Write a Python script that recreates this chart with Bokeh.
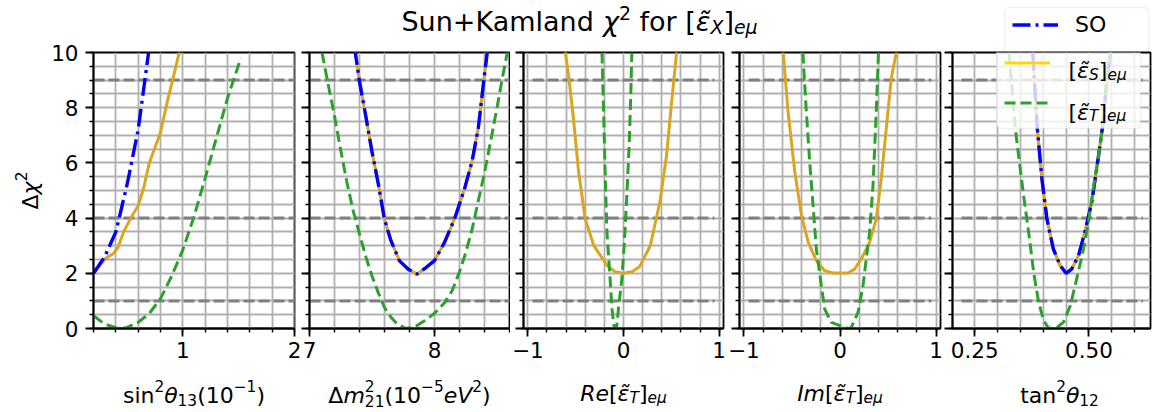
import math
from bokeh.plotting import figure
from bokeh.models import BoxAnnotation, FixedTicker, Label, Legend, LegendItem, Range1d
from bokeh.layouts import row, column
from bokeh.embed import file_html
from bokeh.resources import INLINE

FONT = "DejaVu Sans"
TICK_FS = 21.5
LABEL_FS = 22
TITLE_FS = 27

SO_COLOR = "#0000ff"
S_COLOR = "#daa520"
S_LEGEND_COLOR = "#ffd700"
T_COLOR = "#2ca02c"
REF_COLOR = "#808080"
GRID_COLOR = "#b0b0b0"

# reference levels of delta chi^2
chi2_levels = [1, 4, 9]
y_major = [0, 2, 4, 6, 8, 10]
y_minor = [i * 0.5 for i in range(21)]

# ---- sin^2(theta_13) in units of 1e-1 ----
s13_so_x = [0.2, 0.3, 0.4, 0.5, 0.6, 0.7]
s13_so_y = [2.0, 2.6, 3.5, 5.2, 7.2, 10.2]
s13_s_x = [0.2, 0.3, 0.33, 0.38, 0.42, 0.47, 0.54, 0.6, 0.65, 0.7, 0.8, 0.86, 0.92, 0.98]
s13_s_y = [2.0, 2.5, 2.6, 2.72, 2.95, 3.5, 4.05, 4.45, 5.1, 6.0, 7.1, 8.2, 9.2, 10.2]
s13_t_x = [0.2, 0.3, 0.4, 0.45, 0.5, 0.6, 0.7, 0.8, 0.9, 1.0, 1.1, 1.2, 1.3, 1.4, 1.52]
s13_t_y = [0.46, 0.16, 0.03, 0.0, 0.04, 0.22, 0.55, 1.08, 1.9, 2.85, 4.05, 5.45, 6.9, 8.35, 9.8]
s13_span = [0.2, 2.0]

# ---- delta m^2_21 in units of 1e-5 eV^2 ----
dm_so_x = [7.36, 7.40, 7.45, 7.50, 7.55, 7.60, 7.65, 7.72, 7.79, 7.86, 7.93, 8.00,
           8.08, 8.16, 8.24, 8.30, 8.35, 8.40, 8.43]
dm_so_y = [10.2, 8.95, 7.7, 6.4, 5.25, 3.95, 3.2, 2.45, 2.15, 1.97, 2.2, 2.46,
           3.12, 3.97, 5.06, 6.05, 7.25, 9.2, 10.3]
dm_s_x = [7.36, 7.40, 7.45, 7.50, 7.55, 7.60, 7.65, 7.72, 7.79, 7.86, 7.93, 8.00,
          8.08, 8.16, 8.24, 8.30, 8.35, 8.40, 8.43]
dm_s_y = [10.2, 8.95, 7.7, 6.4, 5.25, 3.95, 3.2, 2.45, 2.15, 1.97, 2.2, 2.46,
          3.12, 3.97, 5.06, 6.05, 7.25, 9.2, 10.3]
dm_t_x = [7.10, 7.15, 7.20, 7.25, 7.30, 7.35, 7.40, 7.45, 7.50, 7.55, 7.60, 7.65, 7.70,
          7.77, 7.85, 7.92, 8.00, 8.08, 8.14, 8.20, 8.25, 8.30, 8.35, 8.40, 8.45, 8.50,
          8.55, 8.60]
dm_t_y = [10.0, 8.83, 7.7, 6.45, 5.28, 4.25, 3.42, 2.61, 1.9, 1.3, 0.76, 0.42, 0.17,
          0.0, 0.08, 0.28, 0.55, 0.93, 1.36, 2.05, 2.75, 3.58, 4.62, 5.65, 6.8, 8.0,
          9.25, 10.4]
dm_span = [7.0, 8.6]

# ---- Re[eps_T]_{e mu} ----
re_s_x = [-0.62, -0.57, -0.52, -0.47, -0.40, -0.31, -0.17, -0.09, 0.0, 0.09, 0.17,
          0.28, 0.38, 0.45, 0.50, 0.56]
re_s_y = [10.3, 9.06, 7.5, 5.7, 3.97, 3.0, 2.28, 2.06, 2.0, 2.06, 2.25, 3.0, 4.58,
          6.27, 8.09, 10.2]
re_t_x = [-0.225, -0.208, -0.19, -0.173, -0.14, -0.12, -0.10, -0.085, -0.07, -0.05,
          -0.017, 0.007, 0.035, 0.059, 0.076, 0.087]
re_t_y = [10.0, 7.85, 5.42, 3.49, 1.8, 0.7, 0.1, 0.0, 0.1, 0.82, 1.79, 3.0, 4.82,
          6.63, 8.45, 10.0]
re_span = [-0.95, 0.95]

# ---- Im[eps_T]_{e mu} ----
im_s_x = [-0.59, -0.54, -0.47, -0.40, -0.33, -0.246, -0.159, -0.073, 0.083, 0.152,
          0.221, 0.308, 0.377, 0.429, 0.481, 0.533, 0.585]
im_s_y = [10.0, 7.85, 5.67, 4.09, 3.12, 2.46, 2.09, 2.01, 2.01, 2.15, 2.52, 3.12,
          3.97, 5.42, 7.24, 9.06, 10.0]
im_t_x = [-0.386, -0.35, -0.315, -0.28, -0.246, -0.194, -0.159, -0.09, 0.048, 0.10,
          0.118, 0.187, 0.239, 0.273, 0.308, 0.343, 0.377, 0.40]
im_t_y = [10.0, 7.85, 6.03, 4.46, 2.88, 1.55, 0.70, 0.22, 0.04, 0.0, 0.04, 0.58,
          1.55, 2.52, 3.49, 5.18, 7.85, 10.0]
im_span = [-0.95, 0.95]

# ---- tan^2(theta_12) ----
t12_so_x = [0.377, 0.387, 0.397, 0.408, 0.422, 0.437, 0.45, 0.462, 0.477, 0.491,
            0.506, 0.52, 0.531, 0.538, 0.547]
t12_so_y = [10.0, 7.24, 5.42, 3.97, 2.88, 2.28, 2.0, 2.15, 2.64, 3.49, 4.58, 6.15,
            7.48, 8.81, 10.0]
t12_s_x = [0.377, 0.387, 0.397, 0.408, 0.422, 0.437, 0.45, 0.462, 0.477, 0.491,
           0.506, 0.52, 0.531, 0.538, 0.547]
t12_s_y = [10.0, 7.24, 5.42, 3.97, 2.88, 2.28, 2.0, 2.15, 2.64, 3.49, 4.58, 6.15,
           7.48, 8.81, 10.0]
t12_t_x = [0.325, 0.339, 0.346, 0.357, 0.368, 0.379, 0.39, 0.401, 0.412, 0.43, 0.444,
           0.459, 0.473, 0.488, 0.499, 0.509, 0.52, 0.531, 0.538, 0.547]
t12_t_y = [10.0, 7.24, 6.27, 4.82, 3.49, 2.03, 0.94, 0.28, 0.0, 0.04, 0.22, 0.82,
           1.79, 2.88, 3.85, 5.06, 6.15, 7.48, 8.81, 10.0]
t12_span = [0.221, 0.618]

# approximate advance widths (em) of DejaVu Sans, used to lay out math-style labels
CHAR_W = {
    " ": 0.318, "(": 0.390, ")": 0.390, "[": 0.390, "]": 0.390, "+": 0.838,
    "\u2212": 0.838, "a": 0.613, "d": 0.635, "e": 0.615, "f": 0.352, "i": 0.278,
    "l": 0.278, "m": 0.974, "n": 0.634, "o": 0.612, "r": 0.411, "s": 0.521,
    "t": 0.392, "u": 0.634, "K": 0.656, "S": 0.635, "R": 0.695, "I": 0.295,
    "X": 0.685, "T": 0.611, "V": 0.684, "O": 0.787, "\u03b8": 0.602,
    "\u03c7": 0.592, "\u03b5": 0.546, "\u03bc": 0.635, "\u0394": 0.684, "\u0303": 0.0,
}
for _d in "0123456789":
    CHAR_W[_d] = 0.636


def text_width(s, size):
    return sum(CHAR_W.get(c, 0.6) for c in s) * size


def math_text(p, pieces, x, y, fs, align="center", angle=0.0, sup=0.43):
    """Lay out (text, italic, role) pieces as a row of Labels in screen units.
    role: n = normal, sup / sub = script, sups = stacked superscript (no advance),
    subs = subscript stacked under the previous superscript."""
    sfs = 0.7 * fs
    items = []
    cursor = 0.0
    for text, italic, role in pieces:
        size = fs if role == "n" else sfs
        if role in ("sup", "sups"):
            dy = sup * fs
        elif role == "sub":
            dy = -0.19 * fs
        elif role == "subs":
            dy = -0.23 * fs
        else:
            dy = 0.0
        lead = len(text) - len(text.lstrip(" "))
        items.append((text.strip(" "), italic, size, cursor + lead * CHAR_W[" "] * size, dy))
        if role != "sups":
            cursor += text_width(text, size)
    start = -cursor / 2 if align == "center" else 0.0
    for text, italic, size, off, dy in items:
        if angle:
            lx, ly = x - dy, y + start + off
        else:
            lx, ly = x + start + off, y + dy
        p.add_layout(Label(x=lx, y=ly, x_units="screen", y_units="screen", text=text,
                           text_font=FONT, text_font_size=f"{size:.1f}px",
                           text_font_style="italic" if italic else "normal",
                           text_color="black", text_align="left",
                           text_baseline="alphabetic", angle=angle, level="overlay"))


def blank_fig(w, h):
    p = figure(width=w, height=h, min_border=0, toolbar_location=None,
               output_backend="svg", x_range=Range1d(0, 1), y_range=Range1d(0, 1))
    p.axis.visible = False
    p.grid.visible = False
    p.outline_line_color = None
    p.background_fill_color = "white"
    p.border_fill_color = "white"
    return p


FRAME_H = 276


def make_panel(xr, xticks, xminor, overrides, frame_w, bl, br, bt, ylabels):
    p = figure(x_range=Range1d(*xr), y_range=Range1d(0, 10), frame_width=frame_w,
               frame_height=FRAME_H, min_border_left=bl, min_border_right=br,
               min_border_top=bt, min_border_bottom=45, toolbar_location=None,
               output_backend="svg")
    p.background_fill_color = "white"
    p.border_fill_color = "white"
    p.outline_line_color = "black"
    p.outline_line_width = 1.8
    p.xgrid.ticker = FixedTicker(ticks=xminor)
    p.ygrid.ticker = FixedTicker(ticks=y_minor)
    for g in (p.xgrid, p.ygrid):
        g.grid_line_color = GRID_COLOR
        g.grid_line_width = 1.8
    xa, ya = p.xaxis[0], p.yaxis[0]
    xa.ticker = FixedTicker(ticks=xticks, minor_ticks=xminor)
    ya.ticker = FixedTicker(ticks=y_major, minor_ticks=y_minor)
    for ax in (xa, ya):
        ax.axis_line_color = "black"
        ax.axis_line_width = 1.8
        ax.major_tick_line_color = "black"
        ax.major_tick_line_width = 1.8
        ax.minor_tick_line_color = "black"
        ax.minor_tick_line_width = 1.4
        ax.major_tick_in = 0
        ax.major_tick_out = 8
        ax.minor_tick_in = 0
        ax.minor_tick_out = 4
        ax.major_label_text_font = FONT
        ax.major_label_text_font_size = f"{TICK_FS}px"
        ax.major_label_text_color = "black"
    xa.major_label_standoff = 5
    if overrides:
        xa.major_label_overrides = overrides
    if ylabels:
        ya.major_label_standoff = 7
    else:
        ya.major_label_overrides = {v: "" for v in y_major}
        ya.major_label_standoff = 0
    return p


def reference_lines(p, span):
    p.multi_line(xs=[list(span) for _ in chi2_levels], ys=[[v, v] for v in chi2_levels],
                 line_color=REF_COLOR, line_width=3, line_dash="11 4")


def curves(p, so=None, s=None, t=None):
    r = {}
    if s is not None:
        r["s"] = p.line(s[0], s[1], line_color=S_COLOR, line_width=3)
    if so is not None:
        r["so"] = p.line(so[0], so[1], line_color=SO_COLOR, line_width=3.4,
                         line_dash="18 5 3 5")
    if t is not None:
        r["t"] = p.line(t[0], t[1], line_color=T_COLOR, line_width=3,
                        line_dash="11 5")
    return r


def legend_box(p, left, right, bottom, top):
    box = BoxAnnotation(left=left, right=right, bottom=bottom, top=top,
                        left_units="screen", right_units="screen",
                        bottom_units="screen", top_units="screen",
                        fill_color="white", fill_alpha=0.8,
                        line_color="#cccccc", line_width=1.5, level="annotation")
    if "border_radius" in BoxAnnotation.properties():
        box.border_radius = 5
    p.add_layout(box)


def plain_legend(items, location, spacing):
    lg = Legend(items=items, location=location)
    lg.padding = 0
    lg.margin = 0
    lg.spacing = spacing
    lg.glyph_width = 46
    lg.glyph_height = 27
    lg.label_height = 27
    lg.label_width = 40
    lg.label_standoff = 17
    lg.label_text_font = FONT
    lg.label_text_font_size = f"{LABEL_FS}px"
    lg.label_text_color = "black"
    lg.background_fill_alpha = 0
    lg.border_line_color = None
    lg.level = "overlay"
    return lg


TOP = 12  # space above the first four frames, below the title strip

minor_s13 = [round(0.2 + 0.2 * i, 2) for i in range(10)]
minor_dm = [round(7.0 + 0.2 * i, 2) for i in range(9)]
minor_eps = [round(-1.0 + 0.2 * i, 2) for i in range(11)]
minor_t12 = [round(0.25 + 0.05 * i, 2) for i in range(8)]

f1 = make_panel((0.1999, 2.0001), [1, 2], minor_s13, None, 201, 45, 7, TOP, True)
f2 = make_panel((6.9999, 8.6), [7, 8], minor_dm, None, 200, 8, 1, TOP, False)
f3 = make_panel((-1.045, 1.045), [-1, 0, 1], minor_eps, {-1: "\u22121"}, 200, 13, 4, TOP, False)
f4 = make_panel((-1.045, 1.045), [-1, 0, 1], minor_eps, {-1: "\u22121"}, 201, 12, 4, TOP, False)
f5 = make_panel((0.2015, 0.6345), [0.25, 0.5], minor_t12, {0.25: "0.25", 0.5: "0.50"},
                198, 8, 6, 1, False)

reference_lines(f1, s13_span)
curves(f1, so=(s13_so_x, s13_so_y), s=(s13_s_x, s13_s_y), t=(s13_t_x, s13_t_y))
reference_lines(f2, dm_span)
curves(f2, so=(dm_so_x, dm_so_y), s=(dm_s_x, dm_s_y), t=(dm_t_x, dm_t_y))
reference_lines(f3, re_span)
curves(f3, s=(re_s_x, re_s_y), t=(re_t_x, re_t_y))
reference_lines(f4, im_span)
curves(f4, s=(im_s_x, im_s_y), t=(im_t_x, im_t_y))
reference_lines(f5, t12_span)
# gold legend handle: the scalar-S curve, drawn first so the goldenrod curve covers it
gold_handle = f5.line(t12_s_x, t12_s_y, line_color=S_LEGEND_COLOR, line_width=3)
r5 = curves(f5, so=(t12_so_x, t12_so_y), s=(t12_s_x, t12_s_y), t=(t12_t_x, t12_t_y))

# x-axis titles, each in a strip under its panel
xl1 = blank_fig(253, 39)
xl2 = blank_fig(209, 39)
xl3 = blank_fig(217, 39)
xl4 = blank_fig(217, 39)
xl5 = blank_fig(212, 39)
math_text(xl1, [("sin", 0, "n"), ("2", 0, "sup"), ("\u03b8", 1, "n"), ("13", 0, "sub"),
                ("(10", 0, "n"), ("\u22121", 0, "sup"), (")", 0, "n")],
          145.5, 17, LABEL_FS)
math_text(xl2, [("\u0394", 0, "n"), ("m", 1, "n"), ("2", 0, "sups"), ("21", 0, "subs"),
                ("(10", 0, "n"), ("\u22125", 0, "sup"), ("eV", 1, "n"), ("2", 0, "sup"),
                (")", 0, "n")],
          108, 17, LABEL_FS)
math_text(xl3, [("Re", 1, "n"), ("[", 0, "n"), ("\u03b5\u0303", 1, "n"), ("T", 1, "sub"),
                ("]", 0, "n"), ("e\u03bc", 1, "sub")],
          113, 19, LABEL_FS)
math_text(xl4, [("Im", 1, "n"), ("[", 0, "n"), ("\u03b5\u0303", 1, "n"), ("T", 1, "sub"),
                ("]", 0, "n"), ("e\u03bc", 1, "sub")],
          112.5, 19, LABEL_FS)
math_text(xl5, [("tan", 0, "n"), ("2", 0, "sup"), ("\u03b8", 1, "n"), ("12", 0, "sub")],
          107, 17, LABEL_FS)

# y-axis title strip
yl = blank_fig(48, 372)
math_text(yl, [("\u0394", 0, "n"), ("\u03c7", 1, "n"), ("2", 0, "sup")],
          30, 222, LABEL_FS, angle=math.pi / 2)

# legend: upper part sits above the last panel, lower part overlaps it
leg_top = blank_fig(212, 51)
# SO legend handle (lies outside this strip's unit ranges, so only its legend sample shows)
so_handle = leg_top.line(t12_so_x, t12_so_y, line_color=SO_COLOR, line_width=3.4,
                         line_dash="18 5 3 5")
legend_box(leg_top, 52, 196, -30, 44)
leg_top.add_layout(plain_legend([LegendItem(label="SO", renderers=[so_handle])], (60, 13), 0))

legend_box(f5, 44, 188, 200, 300)
f5.add_layout(plain_legend([LegendItem(label=" ", renderers=[gold_handle]),
                            LegendItem(label=" ", renderers=[r5["t"]])], (52, 212), 13))
math_text(f5, [("[", 0, "n"), ("\u03b5\u0303", 1, "n"), ("S", 1, "sub"), ("]", 0, "n"),
               ("e\u03bc", 1, "sub")], 116, 258, LABEL_FS, align="left")
math_text(f5, [("[", 0, "n"), ("\u03b5\u0303", 1, "n"), ("T", 1, "sub"), ("]", 0, "n"),
               ("e\u03bc", 1, "sub")], 116, 216.5, LABEL_FS, align="left")

# suptitle strip above the first four panels
title_fig = blank_fig(944, 40)
math_text(title_fig, [("Sun+Kamland ", 0, "n"), ("\u03c7", 1, "n"), ("2", 0, "sup"),
                      (" for [", 0, "n"), ("\u03b5\u0303", 1, "n"), ("X", 1, "sub"),
                      ("]", 0, "n"), ("e\u03bc", 1, "sub")],
          579, 19, TITLE_FS, sup=0.3)

left_block = column(
    title_fig,
    row(yl, column(row(f1, f2, f3, f4), row(xl1, xl2, xl3, xl4))),
)
layout = row(left_block, column(leg_top, f5, xl5))

with open("out.html", "w") as fh:
    fh.write(file_html(layout, INLINE))
